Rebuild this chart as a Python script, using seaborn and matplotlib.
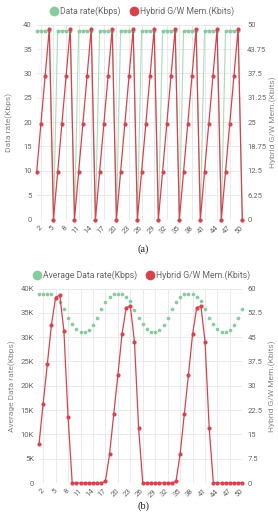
import matplotlib
matplotlib.use("Agg")
import matplotlib.pyplot as plt
from matplotlib.lines import Line2D
import numpy as np
import pandas as pd
import seaborn as sns

# ---------------------------------------------------------------------------
# Data
# ---------------------------------------------------------------------------
steps = list(range(1, 51))
tick_steps = [2, 5, 8, 11, 14, 17, 20, 23, 26, 29, 32, 35, 38, 41, 44, 47, 50]

# (a) data rate (Kbps) and hybrid gateway memory (Kbits)
rate_a = [38.8, 38.8, 38.8, 38.8, 0, 38.8, 38.8, 38.8, 38.8, 0,
          38.8, 38.8, 38.8, 38.8, 0, 38.8, 38.8, 38.8, 38.8, 0,
          38.8, 38.8, 38.8, 38.8, 0, 38.8, 38.8, 38.8, 38.8, 0,
          38.8, 38.8, 38.8, 38.8, 0, 38.8, 38.8, 38.8, 38.8, 0,
          38.8, 38.8, 38.8, 38.8, 0, 38.8, 38.8, 38.8, 38.8, 0]
mem_a = [12.25, 24.5, 36.75, 49, 0, 12.25, 24.5, 36.75, 49, 0,
         12.25, 24.5, 36.75, 49, 0, 12.25, 24.5, 36.75, 49, 0,
         12.25, 24.5, 36.75, 49, 0, 12.25, 24.5, 36.75, 49, 0,
         12.25, 24.5, 36.75, 49, 0, 12.25, 24.5, 36.75, 49, 0,
         12.25, 24.5, 36.75, 49, 0, 12.25, 24.5, 36.75, 49, 0]

# (b) average data rate (Kbps) and hybrid gateway memory (Kbits)
rate_b = [38800, 38800, 38800, 38800, 38300, 37300, 35700, 33900, 32700, 31700,
          31100, 31000, 31500, 32500, 33900, 35700, 37300, 38300, 38800, 38800,
          38800, 38300, 37400, 35600, 33900, 32600, 31700, 31100, 31000, 31500,
          32500, 33900, 35700, 37200, 38300, 38800, 38800, 38800, 38300, 37400,
          35700, 33900, 32600, 31700, 31100, 31000, 31500, 32500, 33900, 35700]
mem_b = [12.0, 24.5, 36.6, 48.8, 57.2, 58.0, 47.0, 20.3, 0, 0,
         0, 0, 0, 0, 0, 0, 0.5, 8.9, 21.2, 33.3,
         45.9, 54.1, 54.6, 43.6, 16.9, 0, 0, 0, 0, 0,
         0, 0, 0, 0.5, 8.9, 21.2, 33.3, 45.9, 54.1, 54.6,
         43.6, 16.9, 0, 0, 0, 0, 0, 0, 0, 0]

left_ticks_a = [0, 5, 10, 15, 20, 25, 30, 35, 40]
right_ticks_a = [0, 6.25, 12.5, 18.75, 25, 31.25, 37.5, 43.75, 50]
left_ticks_b = [0, 5000, 10000, 15000, 20000, 25000, 30000, 35000, 40000]
left_labels_b = ["0", "5K", "10K", "15K", "20K", "25K", "30K", "35K", "40K"]
right_ticks_b = [0, 7.5, 15, 22.5, 30, 37.5, 45, 52.5, 60]

GREEN = "#86cc9c"
GREEN_LINE = "#a9dcb9"
RED = "#d6434f"
TXT = "#666666"
GRID = "#e6e6e6"

sns.set_theme(style="white")
plt.rcParams["font.family"] = ["Roboto", "DejaVu Sans"]

W, H = 278, 513
fig = plt.figure(figsize=(W / 100, H / 100), dpi=100)


def axes_box(x0, x1, ytop, ybot):
    return [x0 / W, 1 - ybot / H, (x1 - x0) / W, (ybot - ytop) / H]


def style_pair(ax, ax2, lt, ll, rt, rl, ylab_l, ylab_r):
    ax.set_xlim(1, 50)
    ax.set_ylim(lt[0], lt[-1])
    ax2.set_ylim(rt[0], rt[-1])
    ax.set_xticks(tick_steps)
    ax.set_xticklabels([str(t) for t in tick_steps], rotation=45,
                       ha="right", va="center", rotation_mode="anchor")
    ax.set_yticks(lt)
    ax.set_yticklabels(ll)
    ax2.set_yticks(rt)
    ax2.set_yticklabels(rl)
    for a in (ax, ax2):
        a.tick_params(length=0, labelsize=5.5, labelcolor=TXT, pad=3.5)
        for s in a.spines.values():
            s.set_visible(False)
        a.set_xlabel("")
    ax.tick_params(axis="x", pad=5)
    ax.grid(True, color=GRID, linewidth=0.6)
    ax2.grid(False)
    ax.set_axisbelow(True)
    ax.set_ylabel(ylab_l, fontsize=6, color="#888888")
    ax2.set_ylabel(ylab_r, fontsize=6, color="#888888")


def fmt(v):
    return ("%g" % v)


# ---------------------------------------------------------------------------
# (a)
# ---------------------------------------------------------------------------
df_a = pd.DataFrame({"step": steps, "rate": rate_a, "mem": mem_a})
ax_a = fig.add_axes(axes_box(36.7, 242.3, 24.8, 219.5))
ax_a2 = ax_a.twinx()
sns.lineplot(data=df_a, x="step", y="rate", ax=ax_a, color=GREEN_LINE,
             linewidth=0.8, marker="o", markersize=2.8, markeredgewidth=0,
             markerfacecolor=GREEN, clip_on=False)
sns.lineplot(data=df_a, x="step", y="mem", ax=ax_a2, color=RED,
             linewidth=0.9, marker="o", markersize=3.0, markeredgewidth=0,
             clip_on=False)
style_pair(ax_a, ax_a2, left_ticks_a, [fmt(v) for v in left_ticks_a],
           right_ticks_a, [fmt(v) for v in right_ticks_a],
           "Data rate(Kbps)", "Hybrid G/W Mem.(Kbits)")

# ---------------------------------------------------------------------------
# (b)
# ---------------------------------------------------------------------------
df_b = pd.DataFrame({"step": steps, "rate": rate_b, "mem": mem_b})
ax_b = fig.add_axes(axes_box(39.0, 242.4, 288.5, 483.0))
ax_b2 = ax_b.twinx()
sns.scatterplot(data=df_b, x="step", y="rate", ax=ax_b, color=GREEN,
                s=7, linewidth=0, clip_on=False)
sns.lineplot(data=df_b, x="step", y="mem", ax=ax_b2, color=RED,
             linewidth=0.9, marker="o", markersize=3.0, markeredgewidth=0,
             clip_on=False)
style_pair(ax_b, ax_b2, left_ticks_b, left_labels_b,
           right_ticks_b, [fmt(v) for v in right_ticks_b],
           "Average Data rate(Kbps)", "Hybrid G/W Mem.(Kbits)")

for ax, ax2 in ((ax_a, ax_a2), (ax_b, ax_b2)):
    ax.yaxis.set_label_coords(-0.115, 0.5)
    ax2.yaxis.set_label_coords(1.13, 0.5)

# legends
def legend(labels, y):
    handles = [Line2D([], [], marker="o", linestyle="", markersize=7,
                      markerfacecolor=c, markeredgewidth=0)
               for c in (GREEN, RED)]
    fig.legend(handles, labels, loc="center", bbox_to_anchor=(0.51, 1 - y / H),
               ncol=2, frameon=False, fontsize=6.2, labelcolor=TXT,
               handletextpad=0.2, columnspacing=1.0, handlelength=1.0)

legend(["Data rate(Kbps)", "Hybrid G/W Mem.(Kbits)"], 11.5)
legend(["Average Data rate(Kbps)", "Hybrid G/W Mem.(Kbits)"], 275)

fig.text(143 / W, 1 - 249 / H, "(a)", ha="center", va="center",
         fontsize=7.5, family="Liberation Serif", color="#222222")
fig.text(143 / W, 1 - 506 / H, "(b)", ha="center", va="center",
         fontsize=7.5, family="Liberation Serif", color="#222222")

fig.savefig("out.png", dpi=100)
